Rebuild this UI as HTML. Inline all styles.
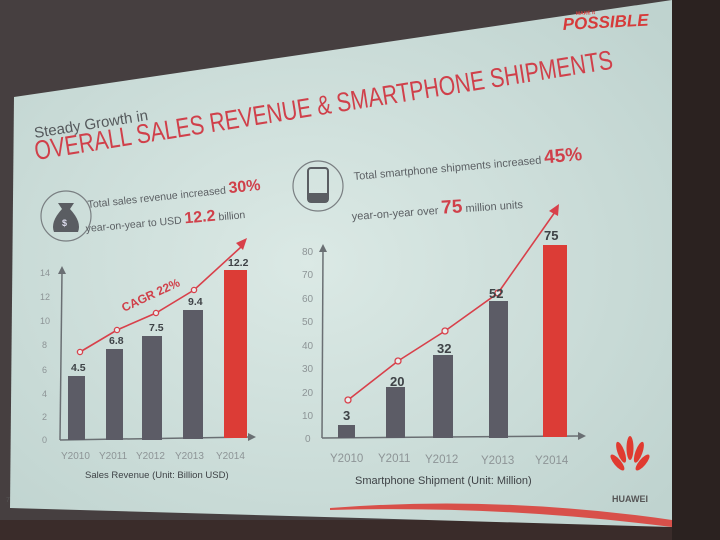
<!DOCTYPE html>
<html><head><meta charset="utf-8"><style>
html,body{margin:0;padding:0;background:#3a302f;}
svg{display:block;font-family:"Liberation Sans",sans-serif;}
</style></head><body>
<svg width="720" height="540" viewBox="0 0 720 540" xmlns="http://www.w3.org/2000/svg">
<defs>
<radialGradient id="bg" cx="0.45" cy="0.5" r="0.7">
<stop offset="0" stop-color="#dbe9e5"/><stop offset="1" stop-color="#bfd3cf"/>
</radialGradient>
</defs>
<rect width="720" height="540" fill="#3b3130"/>
<polygon points="0,0 720,0 720,540 0,540" fill="#463f40"/>
<rect x="672" y="0" width="48" height="540" fill="#2b2220"/>
<polygon points="0,520 672,520 672,540 0,540" fill="#3a2c2a"/>
<!-- slide -->
<polygon points="14,97 672,0 672,527 10,508" fill="url(#bg)"/>
<path d="M330,508 Q500,495 672,520 L672,527 Q500,505 330,510 Z" fill="#d8504a"/>
<!-- POSSIBLE logo -->
<text x="563" y="30" font-size="17" font-weight="bold" font-style="italic" fill="#d63a3a" transform="rotate(-3 563 30)">POSSIBLE</text>
<text x="576" y="15" font-size="5" font-weight="bold" fill="#d63a3a" transform="rotate(-3 576 15)">MAKE it</text>
<!-- title -->
<text x="35" y="138" font-size="15" fill="#55595c" transform="rotate(-9 35 138)">Steady Growth in</text>
<text x="36" y="160" font-size="27" fill="#d0404a" transform="rotate(-9 36 160)" textLength="585" lengthAdjust="spacingAndGlyphs">OVERALL SALES REVENUE &amp; SMARTPHONE SHIPMENTS</text>
<!-- left info -->
<circle cx="66" cy="216" r="25" fill="none" stroke="#7a7f82" stroke-width="1.2"/>
<path d="M58,203 L74,203 L70,209 Q82,222 78,232 L54,232 Q50,222 62,209 Z" fill="#5a5d62"/>
<text x="62" y="226" font-size="9" fill="#dde" font-weight="bold">$</text>
<text x="88" y="208" font-size="10.5" fill="#5c6064" transform="rotate(-6 88 208)">Total sales revenue increased <tspan fill="#d0404a" font-size="16" font-weight="bold">30%</tspan></text>
<text x="86" y="232" font-size="10.5" fill="#5c6064" transform="rotate(-5 86 232)">year-on-year to USD <tspan fill="#d0404a" font-size="16" font-weight="bold">12.2</tspan> billion</text>
<!-- right info -->
<circle cx="318" cy="186" r="25" fill="none" stroke="#7a7f82" stroke-width="1.2"/>
<rect x="308" y="168" width="20" height="34" rx="3" fill="none" stroke="#5a5d62" stroke-width="2"/>
<rect x="308" y="193" width="20" height="9" fill="#5a5d62"/>
<text x="354" y="180" font-size="11" fill="#5c6064" transform="rotate(-5 354 180)">Total smartphone shipments increased <tspan fill="#d0404a" font-size="19" font-weight="bold">45%</tspan></text>
<text x="352" y="220" font-size="11" fill="#5c6064" transform="rotate(-4 352 220)">year-on-year over <tspan fill="#d0404a" font-size="19" font-weight="bold">75</tspan> million units</text>
<!-- left chart -->
<g fill="#8d9496" font-size="9">
<text x="42" y="443">0</text><text x="42" y="420">2</text><text x="42" y="397">4</text><text x="42" y="373">6</text><text x="42" y="348">8</text><text x="40" y="324">10</text><text x="40" y="300">12</text><text x="40" y="276">14</text>
</g>
<line x1="60" y1="440" x2="62" y2="272" stroke="#6a6f73" stroke-width="1.5"/>
<polygon points="58,274 62,266 66,274" fill="#6a6f73"/>
<line x1="60" y1="440" x2="250" y2="437" stroke="#6a6f73" stroke-width="1.5"/>
<polygon points="248,433 256,437 248,441" fill="#6a6f73"/>
<rect x="68" y="376" width="17" height="64" fill="#5c5c66"/>
<rect x="106" y="349" width="17" height="91" fill="#5c5c66"/>
<rect x="142" y="336" width="20" height="104" fill="#5c5c66"/>
<rect x="183" y="310" width="20" height="129" fill="#5c5c66"/>
<rect x="224" y="270" width="23" height="168" fill="#dc3c36"/>
<polyline points="80,352 117,330 156,313 194,290 241,247" fill="none" stroke="#d8404a" stroke-width="1.6"/>
<polygon points="236,243 247,238 243,250" fill="#d8404a"/>
<g fill="#e8eeee" stroke="#d8404a" stroke-width="1.3">
<circle cx="80" cy="352" r="2.6"/><circle cx="117" cy="330" r="2.6"/><circle cx="156" cy="313" r="2.6"/><circle cx="194" cy="290" r="2.6"/>
</g>
<g fill="#3e4246" font-size="10.5" font-weight="bold">
<text x="71" y="371">4.5</text><text x="109" y="344">6.8</text><text x="149" y="331">7.5</text><text x="188" y="305">9.4</text><text x="228" y="266">12.2</text>
</g>
<text x="124" y="312" font-size="12" font-weight="bold" fill="#d0404a" transform="rotate(-25 124 312)">CAGR 22%</text>
<g fill="#8d9496" font-size="10">
<text x="61" y="459">Y2010</text><text x="99" y="459">Y2011</text><text x="136" y="459">Y2012</text><text x="175" y="459">Y2013</text><text x="216" y="459">Y2014</text>
</g>
<text x="85" y="478" font-size="9.5" fill="#3e4246">Sales Revenue (Unit: Billion USD)</text>
<text x="6" y="502" font-size="7" fill="#555">7</text>
<!-- right chart -->
<g fill="#8d9496" font-size="10">
<text x="305" y="442">0</text><text x="302" y="419">10</text><text x="302" y="396">20</text><text x="302" y="372">30</text><text x="302" y="349">40</text><text x="302" y="325">50</text><text x="302" y="302">60</text><text x="302" y="278">70</text><text x="302" y="255">80</text>
</g>
<line x1="322" y1="438" x2="323" y2="250" stroke="#6a6f73" stroke-width="1.5"/>
<polygon points="319,252 323,244 327,252" fill="#6a6f73"/>
<line x1="322" y1="438" x2="580" y2="436" stroke="#6a6f73" stroke-width="1.5"/>
<polygon points="578,432 586,436 578,440" fill="#6a6f73"/>
<rect x="338" y="425" width="17" height="13" fill="#5c5c66"/>
<rect x="386" y="387" width="19" height="51" fill="#5c5c66"/>
<rect x="433" y="355" width="20" height="83" fill="#5c5c66"/>
<rect x="489" y="301" width="19" height="137" fill="#5c5c66"/>
<rect x="543" y="245" width="24" height="192" fill="#dc3c36"/>
<polyline points="348,400 398,361 445,331 498,293 555,212" fill="none" stroke="#d8404a" stroke-width="1.6"/>
<polygon points="549,211 559,204 558,216" fill="#d8404a"/>
<g fill="#e8eeee" stroke="#d8404a" stroke-width="1.3">
<circle cx="348" cy="400" r="3"/><circle cx="398" cy="361" r="3"/><circle cx="445" cy="331" r="3"/><circle cx="498" cy="293" r="3"/>
</g>
<g fill="#3e4246" font-size="13" font-weight="bold">
<text x="343" y="420">3</text><text x="390" y="386">20</text><text x="437" y="353">32</text><text x="489" y="298">52</text><text x="544" y="240">75</text>
</g>
<g fill="#8d9496" font-size="11.5">
<text x="330" y="462">Y2010</text><text x="378" y="462">Y2011</text><text x="425" y="463">Y2012</text><text x="481" y="464">Y2013</text><text x="535" y="464">Y2014</text>
</g>
<text x="355" y="484" font-size="11" fill="#3e4246">Smartphone Shipment (Unit: Million)</text>
<!-- huawei logo -->
<g fill="#e03a30">
<ellipse cx="622" cy="455" rx="3.5" ry="10" transform="rotate(-40 630 465)"/>
<ellipse cx="626" cy="450" rx="3.5" ry="11" transform="rotate(-20 630 465)"/>
<ellipse cx="630" cy="448" rx="3.5" ry="12"/>
<ellipse cx="634" cy="450" rx="3.5" ry="11" transform="rotate(20 630 465)"/>
<ellipse cx="638" cy="455" rx="3.5" ry="10" transform="rotate(40 630 465)"/>
</g>
<text x="612" y="502" font-size="9" font-weight="bold" fill="#555">HUAWEI</text>
</svg>
</body></html>
